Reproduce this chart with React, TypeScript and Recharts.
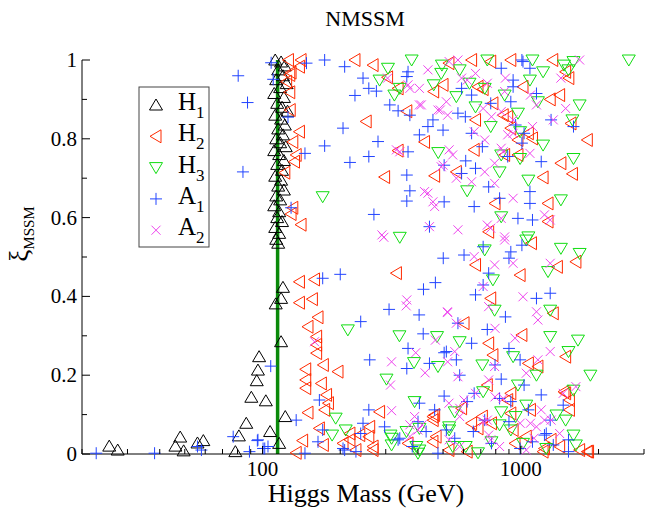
import React from "react";
import { ReferenceLine, Scatter, ScatterChart, XAxis, YAxis } from "recharts";

type Pt = [number, number];

// [Higgs mass (GeV), xi_MSSM]
const h1Points: Pt[] = [
  [25.5, 0.02], [27.5, 0.01], [46, 0.02], [48, 0.043], [49.5, 0.008], [56, 0.028], [59, 0.034],
  [78.5, 0.006], [81, 0.046], [86.5, 0.078], [90.5, 0.144], [95, 0.186], [96, 0.213], [97, 0.247],
  [103, 0.135], [107, 0.057], [116, 0.027], [122.5, 0.095], [118, 0.285], [112.5, 0.381], [118, 0.395],
  [120, 0.423],
  [112, 1.0], [118, 0.995], [122, 0.985], [115, 0.975], [120, 0.96], [113, 0.95], [124, 0.94], [117, 0.93],
  [111, 0.915], [121, 0.905], [114, 0.89], [119, 0.88], [125, 0.87], [112, 0.86], [118, 0.85], [122, 0.835],
  [115, 0.825], [120, 0.81], [113, 0.8], [117, 0.79], [123, 0.78], [111, 0.77], [116, 0.76], [121, 0.745],
  [114, 0.735], [119, 0.72], [112, 0.705], [118, 0.695], [115, 0.68], [121, 0.67], [113, 0.655], [117, 0.645],
  [111, 0.63], [116, 0.615], [114, 0.6], [119, 0.59], [112, 0.575], [116, 0.56], [113, 0.545], [115, 0.535]
];

const h2Points: Pt[] = [
  [126, 1.0], [141, 1.0], [139, 0.983], [129, 0.968], [127.5, 0.962], [124, 0.945], [127.5, 0.918], [128, 0.873],
  [139, 0.818], [131, 0.792], [135, 0.759], [133, 0.742], [122, 0.714], [131, 0.625], [129, 0.609], [141, 0.582],
  [139, 0.437], [159, 0.443], [139, 0.384], [156, 0.393], [164, 0.347], [150, 0.323], [162, 0.298], [162, 0.277],
  [162, 0.256], [172, 0.226], [196, 0.209], [147, 0.215], [147, 0.188], [147, 0.167], [169, 0.179], [177, 0.15],
  [180, 0.129], [150, 0.105], [174, 0.112], [166, 0.065], [143, 0.034], [172, 0.023], [135, 0.003], [205, 0.027],
  [218, 0.036], [238, 0.048], [260, 0.069], [258, 0.044], [268, 0.019], [284, 0.107], [330, 0.459], [458, 0.086],
  [470, 0.044], [366, 0.027], [218, 0.052], [268, 0.01], [230, 0.01], [457, 0.095], [457, 0.031], [645, 0.078],
  [890, 0.137], [915, 0.103], [1310, 0.036], [1810, 0.006], [1235, 0.014], [1470, 0.158], [1543, 0.137], [464, 0.099],
  [228, 1.0], [268, 0.987], [305, 0.956], [335, 0.928], [460, 0.92], [252, 0.844], [362, 0.87], [424, 0.792],
  [335, 0.77], [464, 0.706], [297, 0.703], [645, 1.0], [527, 0.992], [765, 0.996], [683, 0.932], [715, 0.926],
  [668, 0.848], [890, 0.856], [780, 0.89], [915, 0.827], [1070, 0.814], [975, 0.797], [660, 0.772], [975, 0.759],
  [1430, 0.738], [1585, 0.711], [1220, 0.702], [1810, 0.797], [1300, 0.9], [1414, 0.911], [1275, 0.636], [795, 0.636],
  [1275, 0.59], [751, 0.564], [563, 0.716], [915, 1.0], [1535, 0.954], [1330, 1.0], [500, 0.937], [855, 0.86],
  [1565, 0.839], [1110, 0.801], [866, 0.759], [1020, 0.932], [1492, 0.97],
  [1100, 0.535], [1386, 0.475], [1635, 0.488], [668, 0.48], [994, 0.454], [765, 0.395], [1336, 0.357], [603, 0.332],
  [1010, 0.302], [751, 0.281], [780, 0.251], [1492, 0.247], [1070, 0.23], [1165, 0.222], [742, 0.175], [915, 0.154],
  [1492, 0.154], [590, 0.116], [1090, 0.112], [1543, 0.112], [710, 0.095], [770, 0.078], [683, 0.065], [934, 0.061],
  [1050, 0.044], [950, 0.027], [527, 0.01], [620, 0.006], [1220, 0.006], [1414, 0.019], [1690, 0.01], [1830, 0.006]
];

const h3Points: Pt[] = [
  [340, 0.55], [214, 0.315], [339, 0.3], [386, 0.232], [474, 0.298], [478, 0.222], [302, 0.19], [388, 0.133],
  [192, 0.091], [210, 0.061], [186, 0.048], [313, 0.048], [361, 0.057], [405, 0.065], [316, 0.023], [405, 0.01],
  [528, 0.069], [394, 0.019], [316, 0.04], [915, 0.061],
  [171, 0.653], [479, 0.765], [306, 0.979], [324, 0.911], [340, 0.928], [378, 1.0], [284, 0.949], [460, 0.937],
  [492, 0.966], [742, 1.0], [580, 0.975], [633, 0.941], [563, 0.907], [668, 0.881], [725, 0.928], [866, 0.911],
  [765, 0.831], [1085, 0.949], [1220, 0.97], [1470, 0.987], [1530, 0.975], [1690, 0.886], [1585, 0.848], [1165, 0.894],
  [994, 0.818], [975, 0.865], [1220, 0.784], [1600, 0.75], [840, 0.759], [994, 0.75], [828, 0.716], [1070, 0.695],
  [1430, 0.645], [620, 0.668], [840, 0.602], [2620, 1.0], [1600, 0.996], [1110, 1.0], [495, 0.987], [1070, 0.551],
  [1050, 0.543], [1430, 0.522], [1690, 0.509], [725, 0.518], [1275, 0.463], [780, 0.442], [792, 0.365], [1300, 0.365],
  [580, 0.285], [1300, 0.298], [1665, 0.289], [1530, 0.26], [710, 0.226], [934, 0.247], [1860, 0.2], [1150, 0.2],
  [1600, 0.162], [975, 0.175], [715, 0.158], [555, 0.107], [840, 0.107], [1050, 0.124], [1375, 0.099], [1492, 0.086],
  [955, 0.095], [828, 0.074], [1600, 0.048], [1635, 0.023], [528, 0.061], [612, 0.019], [770, 0.031], [1020, 0.027],
  [1255, 0.014], [683, 0.003], [400, 0.002], [545, 0.019]
];

const a1Points: Pt[] = [
  [22.7, 0.002], [38.2, 0.002], [58, 0.01], [56, 0.019], [77, 0.044], [89, 0.006], [95.5, 0.034], [100.5, 0.014],
  [105, 0.019], [135, 0.086], [146, 0.002], [80.5, 0.96], [87.5, 0.892], [84, 0.716], [108, 0.993], [110, 0.951],
  [125.5, 0.855], [146, 0.763], [174, 0.782], [174, 1.0], [148, 0.992], [107.6, 0.223], [166, 0.137], [171, 0.061],
  [164, 0.031], [96, 0.036], [102, 0.014],
  [171, 0.446], [200, 0.456], [240, 0.336], [309, 0.367], [404, 0.353], [420, 0.418], [467, 0.435], [501, 0.497],
  [260, 0.239], [366, 0.268], [362, 0.217], [419, 0.305], [443, 0.23], [505, 0.257], [258, 0.112], [245, 0.078],
  [240, 0.052], [205, 0.014], [230, 0.006], [297, 0.069], [335, 0.036], [380, 0.019], [505, 0.147], [464, 0.112],
  [430, 0.057], [405, 0.129], [400, 0.082], [340, 0.04], [478, 0.002], [208, 0.01],
  [208, 0.983], [245, 0.954], [258, 0.928], [276, 0.921], [228, 0.91], [311, 0.886], [335, 0.871], [372, 0.86],
  [205, 0.827], [280, 0.793], [405, 0.81], [437, 0.831], [457, 0.848], [258, 0.755], [366, 0.767], [218, 0.74],
  [362, 0.708], [372, 0.668], [362, 0.642], [505, 0.64], [129, 0.625], [270, 0.608], [443, 0.577], [500, 0.822],
  [362, 0.958], [366, 0.97],
  [840, 0.979], [1020, 0.996], [934, 0.949], [934, 0.932], [590, 0.928], [645, 0.911], [765, 0.89], [571, 0.865],
  [610, 0.856], [915, 0.894], [1150, 0.915], [1310, 0.848], [1600, 0.831], [955, 0.835], [645, 0.814], [1030, 0.814],
  [1010, 0.789], [710, 0.78], [1200, 0.742], [890, 0.755], [612, 0.744], [668, 0.725], [590, 0.712], [505, 0.733],
  [751, 0.678], [1085, 0.666], [828, 0.649], [1085, 0.636], [660, 0.628], [975, 0.598], [1110, 0.594], [1010, 1.0],
  [1085, 0.979],
  [715, 0.526], [1010, 0.53], [915, 0.513], [603, 0.505], [900, 0.497], [751, 0.459], [715, 0.429], [668, 0.404],
  [1150, 0.395], [1300, 0.408], [872, 0.348], [571, 0.332], [742, 0.316], [645, 0.281], [900, 0.268], [515, 0.26],
  [563, 0.239], [795, 0.226], [994, 0.239], [580, 0.2], [840, 0.19], [1030, 0.175], [660, 0.154], [1200, 0.15],
  [828, 0.141], [620, 0.133], [915, 0.133], [1460, 0.124], [1070, 0.112], [1300, 0.086], [900, 0.082], [725, 0.086],
  [515, 0.061], [655, 0.057], [1255, 0.052], [555, 0.04], [1110, 0.031], [1530, 0.036], [770, 0.027], [994, 0.014],
  [1336, 0.023], [1530, 0.006], [1235, 0.048]
];

const a2Points: Pt[] = [
  [295, 0.55], [362, 0.391], [360, 0.376], [521, 0.359], [316, 0.234], [392, 0.257], [426, 0.206], [467, 0.289],
  [313, 0.175], [316, 0.11], [388, 0.095], [372, 0.074], [400, 0.061], [415, 0.074], [159, 0.285], [372, 0.044],
  [305, 0.954], [372, 0.928], [405, 0.928], [405, 0.886], [437, 0.975], [515, 0.894], [488, 0.873], [521, 0.86],
  [330, 0.772], [340, 0.767], [528, 0.772], [500, 0.733], [424, 0.666], [457, 0.64], [464, 0.628], [443, 0.577],
  [290, 0.556],
  [571, 1.0], [528, 0.996], [1690, 1.0], [668, 0.966], [590, 0.954], [872, 0.954], [1430, 0.954], [866, 0.92],
  [1090, 0.911], [1150, 0.886], [1492, 0.877], [715, 0.877], [840, 0.869], [934, 0.848], [1336, 0.848], [1110, 0.831],
  [660, 0.818], [725, 0.797], [890, 0.81], [545, 0.759], [840, 0.776], [1085, 0.763], [792, 0.738], [725, 0.716],
  [563, 0.7], [645, 0.691], [792, 0.687], [934, 0.649], [840, 0.598], [1300, 0.594], [1235, 0.607], [571, 0.569],
  [742, 0.581], [765, 0.573], [620, 0.949], [742, 0.941], [770, 0.856], [492, 0.729], [437, 0.662], [855, 0.767],
  [934, 0.814], [866, 0.551], [412, 0.886], [478, 0.873], [366, 0.937],
  [866, 0.543], [660, 0.501], [934, 0.484], [792, 0.48], [1300, 0.484], [715, 0.425], [1020, 0.399], [520, 0.361],
  [1150, 0.361], [1165, 0.34], [751, 0.374], [563, 0.332], [795, 0.319], [950, 0.294], [1300, 0.26], [555, 0.26],
  [521, 0.234], [792, 0.222], [1165, 0.239], [1050, 0.205], [571, 0.196], [751, 0.188], [668, 0.154], [1460, 0.154],
  [1635, 0.171], [795, 0.145], [580, 0.095], [855, 0.141], [1200, 0.112], [715, 0.082], [994, 0.078], [1150, 0.069],
  [1310, 0.086], [751, 0.048], [528, 0.036], [580, 0.019], [828, 0.019], [1125, 0.04], [1414, 0.052], [1050, 0.01],
  [527, 0.129], [603, 0.137], [580, 0.116], [742, 0.086], [765, 0.036], [1090, 0.078], [1235, 0.086]
];

const xMajorTicks = [100, 1000];
const xMinorTicks = [20, 30, 40, 50, 60, 70, 80, 90, 200, 300, 400, 500, 600, 700, 800, 900, 2000, 3000];
const yMajorTicks = [0, 0.2, 0.4, 0.6, 0.8, 1];
const yMinorTicks = [0.1, 0.3, 0.5, 0.7, 0.9];
const lepBound = 114.4;

const serif = "Liberation Serif";

type Kind = "up" | "left" | "down" | "plus" | "cross";

const series: { label: string; sub: string; kind: Kind; color: string; points: Pt[] }[] = [
  { label: "H", sub: "1", kind: "up", color: "#000000", points: h1Points },
  { label: "H", sub: "2", kind: "left", color: "#ff2a00", points: h2Points },
  { label: "H", sub: "3", kind: "down", color: "#11dd11", points: h3Points },
  { label: "A", sub: "1", kind: "plus", color: "#2244ff", points: a1Points },
  { label: "A", sub: "2", kind: "cross", color: "#ee44ee", points: a2Points }
];

function Marker({ kind, cx, cy, color }: { kind: Kind; cx: number; cy: number; color: string }) {
  const common = { fill: "none", stroke: color, strokeWidth: 1 };
  if (kind === "up") {
    return <polygon points={`${cx},${cy - 6} ${cx - 6.5},${cy + 5} ${cx + 6.5},${cy + 5}`} {...common} />;
  }
  if (kind === "down") {
    return <polygon points={`${cx},${cy + 6} ${cx - 6.5},${cy - 5} ${cx + 6.5},${cy - 5}`} {...common} />;
  }
  if (kind === "left") {
    return <polygon points={`${cx - 6},${cy} ${cx + 5},${cy - 6.5} ${cx + 5},${cy + 6.5}`} {...common} />;
  }
  if (kind === "plus") {
    return <path d={`M${cx - 6},${cy}H${cx + 6}M${cx},${cy - 6}V${cy + 6}`} {...common} />;
  }
  return <path d={`M${cx - 4.5},${cy - 4.5}L${cx + 4.5},${cy + 4.5}M${cx - 4.5},${cy + 4.5}L${cx + 4.5},${cy - 4.5}`} {...common} />;
}

// tick marks pointing into the plot; labels only on major ticks
function xTick(dir: number, labelled: boolean) {
  return (props: any) => {
    const { x, y, payload } = props;
    const major = xMajorTicks.includes(payload.value);
    const len = major ? 8 : 5;
    return (
      <g>
        <line x1={x} y1={y} x2={x} y2={y + dir * len} stroke="#000" strokeWidth={1} />
        {labelled && major && (
          <text x={x} y={y + 22} textAnchor="middle" fontSize={21} fontFamily={serif} fill="#000">
            {payload.value}
          </text>
        )}
      </g>
    );
  };
}

function yTick(dir: number, labelled: boolean) {
  return (props: any) => {
    const { x, y, payload } = props;
    const major = yMajorTicks.includes(payload.value);
    const len = major ? 8 : 5;
    return (
      <g>
        <line x1={x} y1={y} x2={x + dir * len} y2={y} stroke="#000" strokeWidth={1} />
        {labelled && major && (
          <text x={x - 5} y={y + 7} textAnchor="end" fontSize={21} fontFamily={serif} fill="#000">
            {payload.value}
          </text>
        )}
      </g>
    );
  };
}

const allXTicks = [...xMinorTicks, ...xMajorTicks].sort((a, b) => a - b);
const allYTicks = [...yMajorTicks, ...yMinorTicks].sort((a, b) => a - b);

export default function App() {
  return (
    <div style={{ position: "absolute", left: 0, top: 0, width: 645, height: 513, background: "#fff" }}>
      <ScatterChart width={645} height={513} margin={{ top: 60, right: 1, bottom: 0, left: 0 }}>
        <XAxis
          xAxisId="bottom"
          type="number"
          dataKey="m"
          scale="log"
          domain={[20, 3000]}
          ticks={allXTicks}
          interval={0}
          height={59}
          tickSize={0}
          tickMargin={0}
          tickLine={false}
          axisLine={{ stroke: "#000" }}
          tick={xTick(-1, true)}
        />
        <XAxis
          xAxisId="top"
          orientation="top"
          type="number"
          scale="log"
          domain={[20, 3000]}
          allowDataOverflow
          ticks={allXTicks}
          interval={0}
          height={0}
          tickSize={0}
          tickMargin={0}
          tickLine={false}
          axisLine={{ stroke: "#000" }}
          tick={xTick(1, false)}
        />
        <YAxis
          yAxisId="left"
          type="number"
          dataKey="xi"
          domain={[0, 1]}
          ticks={allYTicks}
          interval={0}
          width={82}
          tickSize={0}
          tickMargin={0}
          tickLine={false}
          axisLine={{ stroke: "#000" }}
          tick={yTick(1, true)}
        />
        <YAxis
          yAxisId="right"
          orientation="right"
          type="number"
          domain={[0, 1]}
          allowDataOverflow
          ticks={allYTicks}
          interval={0}
          width={0}
          tickSize={0}
          tickMargin={0}
          tickLine={false}
          axisLine={{ stroke: "#000" }}
          tick={yTick(-1, false)}
        />
        {series.map((s) => (
          <Scatter
            key={s.label + s.sub}
            xAxisId="bottom"
            yAxisId="left"
            data={s.points.map(([m, xi]) => ({ m, xi }))}
            isAnimationActive={false}
            shape={(p: any) => <Marker kind={s.kind} cx={p.cx} cy={p.cy} color={s.color} />}
          />
        ))}
        <ReferenceLine xAxisId="bottom" yAxisId="left" x={lepBound} stroke="#0a8a0a" strokeWidth={3.5} />
      </ScatterChart>

      <svg width={645} height={513} style={{ position: "absolute", left: 0, top: 0, pointerEvents: "none" }}>
        <text x={365} y={26} textAnchor="middle" fontSize={22} fontFamily={serif} fill="#000">
          NMSSM
        </text>
        <text x={366} y={502} textAnchor="middle" fontSize={26} fontFamily={serif} fill="#000">
          Higgs Mass (GeV)
        </text>
        <text
          transform="translate(28,234) rotate(-90)"
          textAnchor="middle"
          fontSize={27}
          fontFamily={serif}
          fill="#000"
        >
          ξ
          <tspan fontSize={15} dy={6}>MSSM</tspan>
        </text>

        <rect x={139} y={87} width={70} height={160} fill="#fff" stroke="#444" strokeWidth={1} />
        {series.map((s, i) => {
          const cy = 105 + i * 31.3;
          return (
            <g key={"lg" + i}>
              <Marker kind={s.kind} cx={156} cy={cy} color={s.color} />
              <text x={178} y={cy + 5} fontSize={25} fontFamily={serif} fill="#000">
                {s.label}
                <tspan fontSize={17} dy={8}>{s.sub}</tspan>
              </text>
            </g>
          );
        })}
      </svg>
    </div>
  );
}
